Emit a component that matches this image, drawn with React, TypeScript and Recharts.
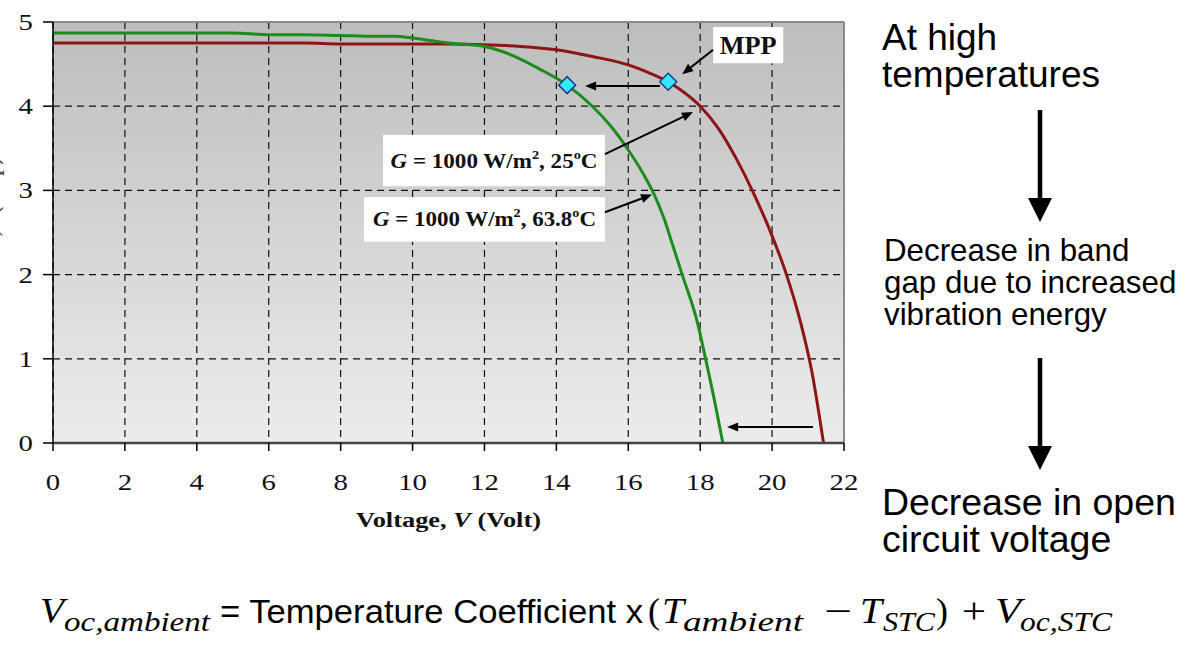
import React from 'react'
import {
  ComposedChart,
  Line,
  Scatter,
  XAxis,
  YAxis,
  CartesianGrid,
  ReferenceLine,
  ReferenceArea,
} from 'recharts'

// axis ticks
const xTicks = [0, 2, 4, 6, 8, 10, 12, 14, 16, 18, 20, 22]
const xMinorTicks = [
  0.5, 1, 1.5, 2.5, 3, 3.5, 4.5, 5, 5.5, 6.5, 7, 7.5, 8.5, 9, 9.5, 10.5, 11, 11.5,
  12.5, 13, 13.5, 14.5, 15, 15.5, 16.5, 17, 17.5, 18.5, 19, 19.5, 20.5, 21, 21.5,
]
const yTicks = [0, 1, 2, 3, 4, 5]
const yMinorTicks = [
  0.2, 0.4, 0.6, 0.8, 1.2, 1.4, 1.6, 1.8, 2.2, 2.4, 2.6, 2.8, 3.2, 3.4, 3.6, 3.8,
  4.2, 4.4, 4.6, 4.8,
]

// I-V curve, G = 1000 W/m2, 25 C
const curve25 = [
  { v: 0, i: 4.75 }, { v: 2, i: 4.75 }, { v: 4, i: 4.75 }, { v: 6, i: 4.75 },
  { v: 7, i: 4.75 }, { v: 8, i: 4.74 }, { v: 10, i: 4.74 }, { v: 11, i: 4.74 },
  { v: 12, i: 4.73 }, { v: 13, i: 4.71 }, { v: 14, i: 4.67 }, { v: 15, i: 4.59 },
  { v: 16, i: 4.49 }, { v: 16.5, i: 4.41 }, { v: 17.11, i: 4.29 }, { v: 17.5, i: 4.18 },
  { v: 18, i: 4.0 }, { v: 18.5, i: 3.74 }, { v: 19, i: 3.38 }, { v: 19.47, i: 2.98 },
  { v: 20, i: 2.46 }, { v: 20.4, i: 2.0 }, { v: 20.8, i: 1.42 }, { v: 21.1, i: 0.86 },
  { v: 21.43, i: 0 },
]

// I-V curve, G = 1000 W/m2, 63.8 C
const curve638 = [
  { v: 0, i: 4.87 }, { v: 2, i: 4.87 }, { v: 5, i: 4.87 }, { v: 6, i: 4.85 },
  { v: 7, i: 4.85 }, { v: 8, i: 4.84 }, { v: 9, i: 4.83 }, { v: 9.5, i: 4.83 },
  { v: 10, i: 4.81 }, { v: 10.5, i: 4.78 }, { v: 11, i: 4.75 }, { v: 12, i: 4.71 },
  { v: 12.5, i: 4.65 }, { v: 13, i: 4.56 }, { v: 13.5, i: 4.45 }, { v: 14.3, i: 4.25 },
  { v: 15, i: 4.0 }, { v: 15.5, i: 3.77 }, { v: 16, i: 3.48 }, { v: 16.4, i: 3.21 },
  { v: 16.7, i: 2.97 }, { v: 17.0, i: 2.66 }, { v: 17.25, i: 2.33 }, { v: 17.5, i: 2.0 },
  { v: 17.93, i: 1.42 }, { v: 18.14, i: 1.02 }, { v: 18.4, i: 0.5 }, { v: 18.63, i: 0 },
]

// maximum power points
const mppPoints = [
  { v: 14.3, i: 4.25 },
  { v: 17.11, i: 4.29 },
]

// annotation arrows (from -> to, in volt / amp)
const arrows = [
  { v1: 18.36, i1: 4.67, v2: 17.5, i2: 4.38 },
  { v1: 16.88, i1: 4.24, v2: 14.8, i2: 4.24 },
  { v1: 15.35, i1: 3.43, v2: 17.8, i2: 3.93 },
  { v1: 15.35, i1: 2.74, v2: 16.66, i2: 2.95 },
  { v1: 21.14, i1: 0.19, v2: 18.75, i2: 0.19 },
]

const serif = "'Liberation Serif', 'Times New Roman', serif"
const sans = "'Liberation Sans', Arial, sans-serif"

const XTick = ({ x, y, payload }: any) => (
  <g>
    <line x1={x} y1={y} x2={x} y2={y + 8} stroke="#000" strokeWidth={1.5} />
    <text
      transform={`translate(${x},${y + 47}) scale(1.2,1)`}
      textAnchor="middle"
      fontFamily={serif}
      fontSize={24}
      fill="#111"
    >
      {payload.value}
    </text>
  </g>
)

const YTick = ({ x, y, payload }: any) => (
  <g>
    <line x1={x - 10} y1={y} x2={x} y2={y} stroke="#000" strokeWidth={1.5} />
    <text
      transform={`translate(${x - 20},${y + 8}) scale(1.2,1)`}
      textAnchor="end"
      fontFamily={serif}
      fontSize={24}
      fill="#111"
    >
      {payload.value}
    </text>
  </g>
)

const Diamond = (p: any) => {
  const { cx, cy } = p
  const r = 8.5
  return (
    <polygon
      points={`${cx},${cy - r} ${cx + r},${cy} ${cx},${cy + r} ${cx - r},${cy}`}
      fill="#35e8f7"
      stroke="#1b3b95"
      strokeWidth={1.5}
    />
  )
}

const ArrowShape = (p: any) => {
  const { x1, y1, x2, y2 } = p
  const a = Math.atan2(y2 - y1, x2 - x1)
  const L = 11
  const W = 4.5
  const bx = x2 - L * Math.cos(a)
  const by = y2 - L * Math.sin(a)
  const pts = [
    [x2, y2],
    [bx - W * Math.sin(a), by + W * Math.cos(a)],
    [bx + W * Math.sin(a), by - W * Math.cos(a)],
  ]
  return (
    <g>
      <line x1={x1} y1={y1} x2={bx} y2={by} stroke="#000" strokeWidth={2} />
      <polygon points={pts.map(q => q.join(',')).join(' ')} fill="#000" />
    </g>
  )
}

const boxShape = (label: (cx: number, by: number) => React.ReactNode) => (p: any) => {
  const { x, y, width, height } = p
  return (
    <g>
      <rect x={x} y={y} width={width} height={height} fill="#fff" />
      {label(x + width / 2, y + height / 2 + 7)}
    </g>
  )
}

const label25 = (cx: number, by: number) => (
  <text x={cx} y={by} textAnchor="middle" fontFamily={serif} fontWeight="bold" fontSize={21} textLength={207} lengthAdjust="spacingAndGlyphs" fill="#111">
    <tspan fontStyle="italic">G</tspan> = 1000 W/m<tspan dy={-9} fontSize={13}>2</tspan>
    <tspan dy={9}>, 25</tspan><tspan dy={-9} fontSize={13}>o</tspan><tspan dy={9}>C</tspan>
  </text>
)

const label638 = (cx: number, by: number) => (
  <text x={cx} y={by} textAnchor="middle" fontFamily={serif} fontWeight="bold" fontSize={21} textLength={223} lengthAdjust="spacingAndGlyphs" fill="#111">
    <tspan fontStyle="italic">G</tspan> = 1000 W/m<tspan dy={-9} fontSize={13}>2</tspan>
    <tspan dy={9}>, 63.8</tspan><tspan dy={-9} fontSize={13}>o</tspan><tspan dy={9}>C</tspan>
  </text>
)

const labelMpp = (cx: number, by: number) => (
  <text x={cx} y={by + 2} textAnchor="middle" fontFamily={serif} fontWeight="bold" fontSize={25} textLength={57} lengthAdjust="spacingAndGlyphs" fill="#111">
    MPP
  </text>
)

const XTitle = (p: any) => {
  const { viewBox } = p
  return (
    <text
      x={viewBox.x + viewBox.width / 2}
      y={viewBox.y + 84}
      textAnchor="middle"
      fontFamily={serif}
      fontWeight="bold"
      fontSize={20}
      textLength={185}
      lengthAdjust="spacingAndGlyphs"
      fill="#111"
    >
      Voltage, <tspan fontStyle="italic">V</tspan> (Volt)
    </text>
  )
}

function DownArrow({ x, y1, y2 }: { x: number; y1: number; y2: number }) {
  return (
    <g>
      <line x1={x} y1={y1} x2={x} y2={y2 - 20} stroke="#000" strokeWidth={4.5} />
      <polygon points={`${x - 12},${y2 - 24} ${x + 12},${y2 - 24} ${x},${y2}`} fill="#000" />
    </g>
  )
}

export default function App() {
  return (
    <div style={{ position: 'absolute', left: 0, top: 0, width: 1200, height: 665, background: '#fff', overflow: 'hidden' }}>
      <ComposedChart
        width={1200}
        height={665}
        margin={{ top: 22, right: 356, bottom: 122, left: 0 }}
      >
        <defs>
          <linearGradient id="plotBg" x1="0" y1="0" x2="0" y2="1">
            <stop offset="0%" stopColor="#bdbdbd" />
            <stop offset="100%" stopColor="#ececec" />
          </linearGradient>
        </defs>
        <CartesianGrid
          fill="url(#plotBg)"
          fillOpacity={1}
          stroke="#111"
          strokeWidth={1.2}
          strokeDasharray="7 5"
        />
        <XAxis
          type="number"
          dataKey="v"
          domain={[0, 22]}
          ticks={xTicks}
          allowDataOverflow
          height={100}
          tickSize={0}
          tickMargin={0}
          tickLine={false}
          tick={<XTick />}
          axisLine={{ stroke: '#444', strokeWidth: 2.5 }}
          label={{ content: <XTitle /> }}
        />
        <XAxis
          xAxisId="minor"
          type="number"
          dataKey="v"
          domain={[0, 22]}
          ticks={xMinorTicks}
          allowDataOverflow
          mirror
          height={0}
          tickSize={-5}
          tick={false}
          axisLine={false}
          tickLine={{ stroke: '#000', strokeWidth: 1.5 }}
        />
        <YAxis
          type="number"
          dataKey="i"
          domain={[0, 5]}
          ticks={yTicks}
          allowDataOverflow
          width={53}
          tickSize={0}
          tickMargin={0}
          tickLine={false}
          tick={<YTick />}
          axisLine={{ stroke: '#000', strokeWidth: 1.5 }}
        />
        <YAxis
          yAxisId="minor"
          type="number"
          dataKey="i"
          domain={[0, 5]}
          ticks={yMinorTicks}
          allowDataOverflow
          mirror
          width={0}
          tickSize={7}
          tick={false}
          axisLine={false}
          tickLine={{ stroke: '#000', strokeWidth: 1.5 }}
        />
        <ReferenceLine y={5} stroke="#8a8a8a" strokeWidth={2} />
        <ReferenceLine x={22} stroke="#8a8a8a" strokeWidth={2} />

        <ReferenceArea x1={9.18} x2={15.35} y1={3.05} y2={3.66} shape={boxShape(label25)} />
        <ReferenceArea x1={8.65} x2={15.35} y1={2.39} y2={2.92} shape={boxShape(label638)} />
        <ReferenceArea x1={18.36} x2={20.31} y1={4.51} y2={4.94} shape={boxShape(labelMpp)} />

        <Line
          data={curve25}
          dataKey="i"
          type="monotone"
          stroke="#8f1414"
          strokeWidth={3}
          dot={false}
          isAnimationActive={false}
        />
        <Line
          data={curve638}
          dataKey="i"
          type="monotone"
          stroke="#1c8c1c"
          strokeWidth={3}
          dot={false}
          isAnimationActive={false}
        />

        {arrows.map((a, k) => (
          <ReferenceLine
            key={k}
            segment={[{ x: a.v1, y: a.i1 }, { x: a.v2, y: a.i2 }]}
            shape={ArrowShape}
          />
        ))}

        <Scatter data={mppPoints} dataKey="i" shape={Diamond} isAnimationActive={false} />
      </ComposedChart>

      <svg width={1200} height={665} style={{ position: 'absolute', left: 0, top: 0, pointerEvents: 'none' }}>
        {/* y title, cut off at the left edge as in the source slide */}
        <text
          transform="translate(-1,232) rotate(-90)"
          textAnchor="middle"
          fontFamily={serif}
          fontWeight="bold"
          fontSize={20}
          fill="#555"
        >
          Current, <tspan fontStyle="italic">I</tspan> (Amp)
        </text>

        <g fontFamily={sans} fill="#000">
          <text x={882} y={50} fontSize={37}>At high</text>
          <text x={882} y={87} fontSize={37}>temperatures</text>
          <text x={884} y={261} fontSize={31.3}>Decrease in band</text>
          <text x={884} y={293} fontSize={31.3}>gap due to increased</text>
          <text x={884} y={325} fontSize={31.3}>vibration energy</text>
          <text x={882} y={515} fontSize={37.5}>Decrease in open</text>
          <text x={882} y={552} fontSize={37.5}>circuit voltage</text>
        </g>
        <DownArrow x={1040} y1={110} y2={222} />
        <DownArrow x={1040} y1={358} y2={470} />

        <g fill="#000">
          <text x={40} y={623} fontFamily={serif} fontStyle="italic" fontSize={36} textLength={24} lengthAdjust="spacingAndGlyphs">V</text>
          <text x={64} y={631} fontFamily={serif} fontStyle="italic" fontSize={27} textLength={146} lengthAdjust="spacingAndGlyphs">oc,ambient</text>
          <text x={220} y={623} fontFamily={sans} fontSize={34} textLength={423} lengthAdjust="spacingAndGlyphs">= Temperature Coefficient x</text>
          <text x={648} y={623} fontFamily={serif} fontSize={36}>(</text>
          <text x={662} y={623} fontFamily={serif} fontStyle="italic" fontSize={36} textLength={22} lengthAdjust="spacingAndGlyphs">T</text>
          <text x={683} y={631} fontFamily={serif} fontStyle="italic" fontSize={27} textLength={120} lengthAdjust="spacingAndGlyphs">ambient</text>
          <text x={824} y={623} fontFamily={serif} fontSize={36} textLength={28} lengthAdjust="spacingAndGlyphs">−</text>
          <text x={860} y={623} fontFamily={serif} fontStyle="italic" fontSize={36} textLength={22} lengthAdjust="spacingAndGlyphs">T</text>
          <text x={883} y={631} fontFamily={serif} fontStyle="italic" fontSize={27} textLength={52} lengthAdjust="spacingAndGlyphs">STC</text>
          <text x={936} y={623} fontFamily={serif} fontSize={36}>)</text>
          <text x={962} y={623} fontFamily={serif} fontSize={36} textLength={24} lengthAdjust="spacingAndGlyphs">+</text>
          <text x={995} y={623} fontFamily={serif} fontStyle="italic" fontSize={36} textLength={26} lengthAdjust="spacingAndGlyphs">V</text>
          <text x={1020} y={631} fontFamily={serif} fontStyle="italic" fontSize={27} textLength={92} lengthAdjust="spacingAndGlyphs">oc,STC</text>
        </g>
      </svg>
    </div>
  )
}
